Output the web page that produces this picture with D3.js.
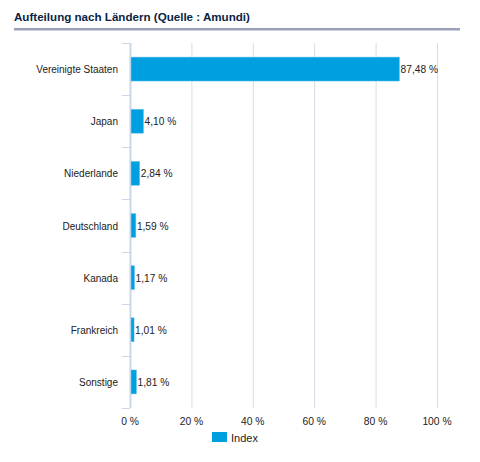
<!DOCTYPE html>
<html><head><meta charset="utf-8">
<script src="https://cdn.jsdelivr.net/npm/d3@7"></script>
<style>
body{margin:0;background:#fff;font-family:"Liberation Sans",Arial,Helvetica,sans-serif;}
</style></head>
<body><svg id="c" width="480" height="462"></svg>
<script>
const categories=["Vereinigte Staaten","Japan","Niederlande","Deutschland","Kanada","Frankreich","Sonstige"];
const values=[87.48,4.10,2.84,1.59,1.17,1.01,1.81];
const valueLabels=["87,48 %","4,10 %","2,84 %","1,59 %","1,17 %","1,01 %","1,81 %"];
const ticks=[0,20,40,60,80,100];
const tickLabels=["0 %","20 %","40 %","60 %","80 %","100 %"];
const seriesName="Index";
const title="Aufteilung nach Ländern (Quelle : Amundi)";

const svg=d3.select("#c");
const L=130,R=437,T=43,B=408;
const x=d3.scaleLinear().domain([0,100]).range([L,R]);
const y=d3.scaleBand().domain(categories).range([T,B]);

svg.append("text").attr("x",14).attr("y",21).text(title)
 .attr("font-size",11.6).attr("font-weight","bold").attr("fill","#0a1f44");
svg.append("rect").attr("x",14).attr("y",28).attr("width",446).attr("height",2.5).attr("fill","#98a0b8");

// grid
svg.append("g").selectAll("line").data(ticks.slice(1)).join("line")
 .attr("x1",d=>x(d)+0.5).attr("x2",d=>x(d)+0.5).attr("y1",T).attr("y2",B)
 .attr("stroke","#d6dde8").attr("stroke-width",1);
// left axis
svg.append("line").attr("x1",L+0.5).attr("x2",L+0.5).attr("y1",T).attr("y2",B)
 .attr("stroke","#ccd6eb").attr("stroke-width",2);
// category ticks
const bounds=categories.map(c=>y(c)).concat([B]);
svg.append("g").selectAll("line").data(bounds).join("line")
 .attr("x1",L-8).attr("x2",L).attr("y1",d=>Math.round(d)+0.5).attr("y2",d=>Math.round(d)+0.5)
 .attr("stroke","#ccd6eb").attr("stroke-width",1);
// category labels
svg.append("g").selectAll("text").data(categories).join("text")
 .attr("x",118).attr("y",d=>y(d)+y.bandwidth()/2+4).attr("text-anchor","end")
 .attr("font-size",10).attr("fill","#222").text(d=>d);
// bars
const bh=24;
svg.append("g").selectAll("rect").data(values).join("rect")
 .attr("x",x(0)+1).attr("y",(d,i)=>y(categories[i])+y.bandwidth()/2-bh/2)
 .attr("width",d=>x(d)-x(0)).attr("height",bh)
 .attr("fill","#009fdf").attr("stroke","#7fcdef").attr("stroke-width",0.5);
// value labels
svg.append("g").selectAll("text").data(values).join("text")
 .attr("x",d=>x(d)+2).attr("y",(d,i)=>y(categories[i])+y.bandwidth()/2+4)
 .attr("font-size",10.2).attr("fill","#222").text((d,i)=>valueLabels[i]);
// x labels
svg.append("g").selectAll("text").data(ticks).join("text")
 .attr("x",d=>x(d)).attr("y",425).attr("text-anchor","middle")
 .attr("font-size",10.3).attr("fill","#222").text((d,i)=>tickLabels[i]);
// legend
svg.append("rect").attr("x",212).attr("y",432).attr("width",15).attr("height",10).attr("fill","#009fdf");
svg.append("text").attr("x",231).attr("y",441.5).attr("font-size",11).attr("fill","#222").text(seriesName);
</script></body></html>
